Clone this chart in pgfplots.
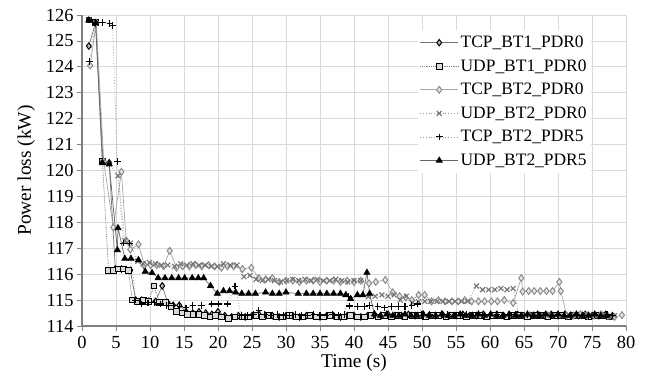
\documentclass[border=0pt]{standalone}
\usepackage{pgfplots}
\pgfplotsset{compat=1.18}
\usepackage{fontspec}
\setmainfont{Liberation Serif}
\begin{document}
\begin{tikzpicture}
\begin{axis}[
  scale only axis, width=544bp, height=311bp,
  xmin=0, xmax=80, ymin=114, ymax=126,
  xtick={0,5,...,80}, ytick={114,115,...,126},
  /pgf/number format/assume math mode=true,
  ticklabel style={font=\fontsize{18.5}{21}\selectfont},
  xticklabel style={yshift=-2bp},
  label style={font=\fontsize{19.5}{22}\selectfont},
  xlabel={Time (s)}, ylabel={Power loss (kW)},
  xlabel style={yshift=2bp},
  ylabel style={yshift=4bp},
  grid=major, grid style={black!15, line width=0.8bp},
  axis x line=bottom, axis y line=left,
  axis line style={-, black!50, line width=1.3bp},
  tick align=outside, major tick length=5bp,
  tick style={black!50, line width=0.8bp},
  legend style={at={(0.617,0.952)}, anchor=north west, draw=none, fill=white,
    font=\fontsize{17.5}{20}\selectfont, row sep=6.5bp, inner xsep=2bp, inner ysep=4bp,
    cells={anchor=west}},
  legend image code/.code={\draw[mark repeat=2,mark phase=2] plot coordinates {(0bp,0bp) (19bp,0bp) (38bp,0bp)};},
]
% TCP_BT1_PDR0
\addplot[black!55, line width=0.7bp, mark=diamond*, mark size=3.2bp, mark options={solid, draw=black, fill=black!25, line width=1bp}] coordinates {
(1,124.8)(2,125.7)(3.1,120.35)(4,120.3)(4.9,116.2)(5.8,116.2)(7.1,116.15)(7.9,115.0)(8.8,115.0)(9.8,114.95)
(10.8,114.95)(11.8,115.55)(12.6,114.9)(13.4,114.8)(14.3,114.8)(15.3,114.55)(16.3,114.5)(17.2,114.55)(18.2,114.5)(19.1,114.45)
(20,114.55)(21,114.4)(22,114.35)(23,114.4)(24,114.35)(25,114.4)(26,114.45)(27,114.4)(28,114.4)(29,114.35)
(30,114.4)(31,114.4)(32,114.35)(33,114.4)(34,114.4)(35,114.35)(36,114.4)(37,114.4)(38,114.35)(39,114.4)
(40,114.4)(41,114.35)(42,114.4)(43,114.45)(44,114.4)(45,114.45)(46,114.4)(47,114.4)(48,114.45)(49,114.4)
(50,114.45)(51,114.4)(52,114.4)(53,114.45)(54,114.4)(55,114.4)(56,114.45)(57,114.4)(58,114.4)(59,114.45)
(60,114.4)(61,114.45)(62,114.4)(63,114.4)(64,114.45)(65,114.4)(66,114.4)(67,114.45)(68,114.4)(69,114.45)
(70,114.4)(71,114.45)(72,114.4)(73,114.4)(74,114.45)(75,114.4)(76,114.4)(77,114.45)(78,114.4)
};
\addlegendentry{TCP\_BT1\_PDR0}
% UDP_BT1_PDR0
\addplot[black!50, densely dotted, line width=0.8bp, mark=square*, mark size=2.8bp, mark options={solid, draw=black, fill=black!15, line width=1bp}] coordinates {
(1,125.8)(2,125.7)(3,120.35)(3.9,116.15)(4.6,116.15)(5.4,116.2)(6.1,116.2)(6.8,116.15)(7.4,115.0)(8.1,114.95)
(9.0,115.0)(9.8,114.95)(10.6,115.55)(11.4,114.9)(12.3,114.9)(13.1,114.75)(13.9,114.55)(14.7,114.5)(15.5,114.45)(16.3,114.45)
(17.2,114.45)(18.0,114.4)(18.8,114.35)(19.6,114.4)(20.5,114.35)(21.5,114.3)(22.5,114.35)(23.5,114.35)(24.5,114.35)(25.5,114.4)
(26.5,114.35)(27.5,114.4)(28.5,114.35)(29.5,114.35)(30.5,114.4)(31.5,114.35)(32.5,114.35)(33.5,114.4)(34.5,114.35)(35.5,114.35)
(36.5,114.4)(37.5,114.35)(38.5,114.35)(39.5,114.4)(40.5,114.35)(41.5,114.35)(42.5,114.4)(43.5,114.35)(44.5,114.4)(45.5,114.35)
(46.5,114.4)(47.5,114.35)(48.5,114.4)(49.5,114.4)(50.5,114.35)(51.5,114.4)(52.5,114.4)(53.5,114.35)(54.5,114.4)(55.5,114.4)
(56.5,114.35)(57.5,114.4)(58.5,114.4)(59.5,114.35)(60.5,114.4)(61.5,114.4)(62.5,114.35)(63.5,114.4)(64.5,114.4)(65.5,114.35)
(66.5,114.4)(67.5,114.4)(68.5,114.35)(69.5,114.4)(70.5,114.4)(71.5,114.35)(72.5,114.4)(73.5,114.4)(74.5,114.35)(75.5,114.4)
(76.5,114.4)(77.5,114.35)
};
\addlegendentry{UDP\_BT1\_PDR0}
% TCP_BT2_PDR0
\addplot[black!35, line width=0.7bp, mark=diamond*, mark size=3.4bp, mark options={solid, draw=black!45, fill=black!10, line width=1bp}] coordinates {
(1.2,124.05)(2.1,125.7)(3.2,120.35)(4.6,117.8)(5.8,119.95)(6.5,117.3)(7.1,116.95)(8.3,117.15)(9.2,116.35)(10.1,116.35)
(11.0,116.35)(12.0,116.3)(12.9,116.9)(13.9,116.25)(14.8,116.3)(15.8,116.3)(16.7,116.35)(17.6,116.3)(18.6,116.35)(19.5,116.3)
(20.5,116.25)(21.4,116.3)(22.3,116.3)(23.6,116.2)(24.9,116.25)(26.0,115.85)(27.0,115.8)(28.0,115.85)(29.0,115.7)(30.0,115.75)
(31.0,115.75)(32.0,115.7)(33.0,115.75)(34.0,115.75)(35.0,115.7)(36.0,115.75)(37.0,115.75)(38.0,115.7)(39.0,115.75)(40.0,115.7)
(41.0,115.75)(42.2,115.65)(43.2,115.7)(44.6,115.78)(45.7,115.3)(46.7,115.15)(47.6,115.1)(48.5,115.0)(49.5,115.2)(50.4,115.2)
(51.4,114.95)(52.4,115.0)(53.4,114.95)(54.4,114.95)(55.3,114.95)(56.3,115.0)(57.3,114.95)(58.3,114.95)(59.2,114.95)(60.2,114.95)
(61.1,114.95)(62.1,115.0)(63.4,114.89)(64.6,115.85)(64.8,115.33)(65.7,115.35)(66.5,115.35)(67.4,115.35)(68.3,115.35)(69.2,115.35)
(70.2,115.7)(70.4,115.35)(71.3,114.4)(72.3,114.4)(73.3,114.45)(74.3,114.4)(75.3,114.4)(76.3,114.45)(77.3,114.4)(78.3,114.35)
(79.4,114.42)
};
\addlegendentry{TCP\_BT2\_PDR0}
% UDP_BT2_PDR0
\addplot[black!40, dotted, line width=0.8bp, mark=x, mark size=3.5bp, mark options={solid, draw=black!55, line width=1.1bp}] coordinates {
(1,125.8)(2,125.7)(3,120.3)(4,120.25)(5.3,119.8)(6.3,117.3)(7.1,117.2)(8.2,116.5)(9.0,116.4)(9.9,116.45)
(10.8,116.4)(11.7,116.35)(12.6,116.35)(13.6,116.3)(14.5,116.4)(15.4,116.35)(16.3,116.4)(17.2,116.35)(18.1,116.35)(19.0,116.3)
(19.9,116.3)(20.8,116.4)(21.8,116.35)(22.8,116.35)(23.8,115.9)(24.7,115.95)(25.6,115.8)(26.5,115.75)(27.4,115.8)(28.3,115.75)
(29.2,115.7)(30.1,115.75)(31.0,115.8)(31.9,115.75)(32.8,115.8)(33.7,115.75)(34.6,115.8)(35.5,115.75)(36.4,115.75)(37.3,115.8)
(38.2,115.75)(39.1,115.7)(40.0,115.75)(41.0,115.75)(42.1,115.13)(43.1,115.15)(44.1,115.2)(45.0,115.15)(45.9,115.2)(46.8,115.0)
(47.7,115.15)(48.6,114.9)(49.5,114.95)(50.4,114.95)(51.3,114.95)(52.2,114.95)(53.1,114.95)(54.0,114.95)(54.9,114.95)(55.8,114.95)
(56.7,114.95)(58.0,115.54)(58.9,115.4)(59.8,115.4)(60.7,115.4)(61.6,115.45)(62.5,115.4)(63.4,115.45)(64.3,114.4)(65.2,114.4)
(66.1,114.45)(67.0,114.4)(67.9,114.4)(68.8,114.45)(69.7,114.4)(70.6,114.4)(71.5,114.45)(72.4,114.4)(73.3,114.4)(74.2,114.45)
(75.1,114.4)(76.0,114.4)(76.9,114.45)(77.8,114.35)(78.3,114.4)
};
\addlegendentry{UDP\_BT2\_PDR0}
% TCP_BT2_PDR5
\addplot[black!40, dotted, line width=0.8bp, mark=+, mark size=3.3bp, mark options={solid, draw=black, line width=1.1bp}] coordinates {
(1.1,124.2)(2.0,125.7)(3.0,125.7)(4.1,125.68)(4.5,125.6)(5.2,120.34)(6.1,117.2)(7.0,117.2)(7.9,115.0)(8.8,114.85)
(9.7,114.89)(10.6,114.9)(11.5,114.85)(12.4,114.8)(13.4,114.8)(14.4,114.75)(15.3,114.7)(16.3,114.8)(17.6,114.8)(19.1,114.85)
(20.1,114.85)(21.4,114.85)(22.5,115.54)(23.4,114.4)(24.3,114.4)(25.2,114.45)(26.0,114.6)(26.9,114.45)(27.8,114.4)(28.7,114.45)
(29.6,114.4)(30.5,114.4)(31.4,114.45)(32.3,114.4)(33.2,114.4)(34.1,114.45)(35.0,114.4)(35.9,114.4)(36.8,114.45)(37.7,114.4)
(38.6,114.45)(39.2,115.15)(39.3,114.77)(40.5,114.75)(41.5,114.75)(42.3,114.8)(43.5,114.75)(44.5,114.7)(45.5,114.75)(46.5,114.75)
(47.5,114.75)(48.5,114.8)(49.3,114.85)(50.2,114.4)(51.1,114.45)(52.0,114.4)(52.9,114.4)(53.8,114.45)(54.7,114.4)(55.6,114.4)
(56.5,114.45)(57.4,114.4)(58.3,114.45)(59.2,114.4)(60.1,114.4)(61.0,114.45)(61.9,114.4)(62.8,114.4)(63.7,114.45)(64.6,114.4)
(65.5,114.45)(66.4,114.4)(67.3,114.4)(68.2,114.45)(69.1,114.4)(70.0,114.45)(70.9,114.4)(71.8,114.4)(72.7,114.45)(73.6,114.4)
(74.5,114.4)(75.4,114.45)(76.3,114.4)(77.2,114.45)(78.0,114.4)
};
\addlegendentry{TCP\_BT2\_PDR5}
% UDP_BT2_PDR5
\addplot[black!60, line width=0.7bp, mark=triangle*, mark size=3.4bp, mark options={solid, draw=black, fill=black, line width=0.8bp}] coordinates {
(1,125.8)(2,125.7)(3,120.3)(4,120.25)(5.2,116.93)(5.3,117.78)(6.3,116.6)(7.2,116.6)(8.3,116.55)(9.3,116.1)
(10.3,116.05)(11.2,115.85)(12.2,115.85)(13.2,115.85)(14.2,115.85)(15.1,115.85)(16.2,115.85)(17.1,115.85)(17.9,115.85)(18.9,115.55)
(19.9,115.25)(20.8,115.35)(21.7,115.35)(22.6,115.3)(23.5,115.25)(24.5,115.25)(25.5,115.25)(27.0,115.3)(28.0,115.25)(29.0,115.25)
(30.0,115.3)(31.8,115.25)(33.0,115.25)(34.0,115.25)(35.0,115.25)(36.0,115.25)(37.0,115.25)(38.0,115.25)(38.8,115.2)(39.5,115.05)
(40.5,115.2)(41.3,115.2)(41.9,116.06)(42.3,115.25)(43.0,114.45)(43.9,114.4)(44.8,114.45)(45.7,114.4)(46.6,114.4)(47.5,114.45)
(48.4,114.4)(49.3,114.4)(50.2,114.45)(51.1,114.4)(52.0,114.4)(52.9,114.45)(53.8,114.4)(54.7,114.4)(55.6,114.45)(56.5,114.4)
(57.4,114.4)(58.3,114.45)(59.2,114.4)(60.1,114.45)(61.0,114.4)(61.9,114.4)(62.8,114.45)(63.7,114.4)(64.6,114.4)(65.5,114.45)
(66.4,114.4)(67.3,114.4)(68.2,114.45)(69.1,114.4)(70.0,114.45)(70.9,114.4)(71.8,114.4)(72.7,114.45)(73.6,114.4)(74.5,114.4)
(75.4,114.45)(76.3,114.4)(77.2,114.4)
};
\addlegendentry{UDP\_BT2\_PDR5}
\end{axis}
\path (current axis.south west) ++(-82bp,-53bp) coordinate (bl);
\path (current axis.north east) ++(22bp,15bp) coordinate (tr);
\useasboundingbox (bl) rectangle (tr);
\end{tikzpicture}
\end{document}
